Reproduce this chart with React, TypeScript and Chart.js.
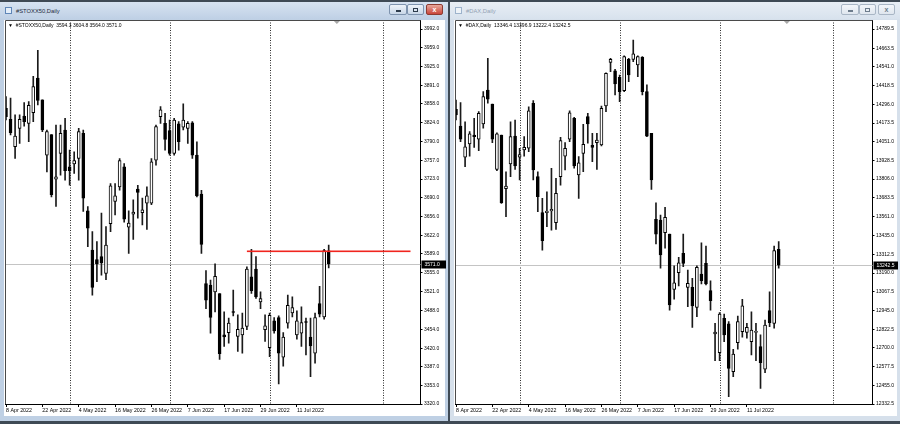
import React, { useEffect, useRef } from 'react';
import { Chart, registerables } from 'chart.js';

Chart.register(...registerables);

const FONT = '"Liberation Sans", Arial, sans-serif';

// ---------------- data ----------------
const dateLabels = ['8 Apr 2022', '22 Apr 2022', '4 May 2022', '16 May 2022', '26 May 2022', '7 Jun 2022', '17 Jun 2022', '29 Jun 2022', '11 Jul 2022'];
const dateLabelBars = [0, 8, 16, 24, 32, 40, 48, 56, 64];
const monthSeparatorBars = [14, 36, 58, 83];
const shiftMarkerBar = 72.8;

const stoxxOpen = [
  3850, 3830, 3781, 3814, 3836, 3823, 3842, 3904, 3865, 3766,
  3803, 3723, 3769, 3811, 3745, 3750, 3760, 3805, 3666, 3596,
  3579, 3584, 3554, 3643, 3683, 3709, 3745, 3637, 3660, 3705,
  3663, 3680, 3680, 3757, 3835, 3823, 3810, 3769, 3822, 3816,
  3814, 3824, 3766, 3696, 3536, 3533, 3521, 3518, 3444, 3448,
  3485, 3441, 3444, 3459, 3548, 3562, 3503, 3453, 3421, 3469,
  3475, 3404, 3465, 3483, 3444, 3447, 3467, 3440, 3411, 3500,
  3476, 3594.3,
];
const stoxxHigh = [
  3871, 3868, 3838, 3838, 3860, 3862, 3907, 3954, 3865, 3811,
  3803, 3820, 3820, 3832, 3775, 3772, 3814, 3811, 3674, 3629,
  3611, 3662, 3638, 3715, 3715, 3760, 3751, 3666, 3686, 3712,
  3689, 3709, 3760, 3820, 3853, 3841, 3829, 3832, 3826, 3858,
  3826, 3826, 3790, 3703, 3559, 3542, 3571, 3518, 3485, 3474,
  3524, 3480, 3483, 3566, 3597, 3584, 3521, 3480, 3483, 3475,
  3478, 3448, 3515, 3512, 3487, 3494, 3474, 3474, 3483, 3531,
  3597, 3604.8,
];
const stoxxLow = [
  3829, 3802, 3760, 3787, 3818, 3790, 3826, 3856, 3808, 3736,
  3691, 3674, 3730, 3721, 3712, 3733, 3721, 3665, 3602, 3515,
  3539, 3551, 3543, 3629, 3659, 3703, 3646, 3590, 3615, 3653,
  3641, 3633, 3677, 3748, 3823, 3775, 3766, 3766, 3775, 3811,
  3787, 3760, 3691, 3590, 3491, 3447, 3485, 3400, 3423, 3429,
  3478, 3414, 3411, 3453, 3518, 3509, 3491, 3432, 3405, 3447,
  3356, 3388, 3456, 3476, 3436, 3423, 3408, 3369, 3393, 3476,
  3472, 3564.0,
];
const stoxxClose = [
  3835, 3806, 3800, 3830, 3826, 3855, 3889, 3864, 3811, 3808,
  3695, 3727, 3805, 3738, 3738, 3756, 3808, 3689, 3635, 3529,
  3571, 3573, 3605, 3711, 3693, 3756, 3651, 3644, 3664, 3699,
  3668, 3693, 3754, 3817, 3847, 3794, 3769, 3829, 3790, 3829,
  3823, 3766, 3693, 3606, 3506, 3475, 3549, 3410, 3440, 3465,
  3484, 3454, 3456, 3562, 3523, 3512, 3509, 3460, 3479, 3451,
  3411, 3440, 3497, 3493, 3469, 3466, 3466, 3424, 3475, 3481,
  3595, 3571.0,
];
const stoxxPriceTicks = [3992.0, 3959.0, 3925.0, 3891.0, 3858.0, 3824.0, 3790.0, 3757.0, 3723.0, 3690.0, 3656.0, 3622.0, 3589.0, 3555.0, 3521.0, 3488.0, 3454.0, 3420.0, 3387.0, 3353.0, 3320.0];
const stoxxLevel = { fromBar: 53, toBar: 89, price: 3594 };

const daxOpen = [
  14263, 14154, 13949, 14036, 14095, 14067, 14167, 14390, 14298, 13870,
  14095, 13743, 13905, 14088, 13949, 13997, 14008, 14303, 13822, 13586,
  13586, 13597, 13520, 13822, 13957, 14067, 14204, 13833, 13975, 14215,
  14027, 14045, 14030, 14285, 14571, 14516, 14473, 14385, 14591, 14591,
  14554, 14604, 14379, 14106, 13543, 13538, 13455, 13446, 13084, 13193,
  13320, 13097, 13097, 12966, 13184, 13254, 13075, 12791, 12669, 12894,
  12857, 12544, 12734, 12806, 12802, 12741, 12802, 12708, 12560, 12944,
  12861, 13346.4,
];
const daxHigh = [
  14324, 14307, 14182, 14117, 14204, 14248, 14379, 14598, 14298, 14110,
  14095, 13854, 14182, 14193, 14008, 14084, 14280, 14320, 13854, 13680,
  13723, 13877, 13811, 14080, 14045, 14254, 14211, 13953, 14165, 14237,
  14106, 14106, 14285, 14503, 14598, 14525, 14488, 14613, 14598, 14717,
  14613, 14608, 14423, 14106, 13651, 13571, 13621, 13446, 13237, 13294,
  13446, 13210, 13156, 13237, 13389, 13368, 13140, 12861, 12931, 12922,
  12872, 12691, 12909, 13019, 12861, 12937, 12861, 12785, 12883, 13068,
  13368, 13396.9,
];
const daxLow = [
  14193, 14051, 13887, 13957, 14014, 13992, 14139, 14303, 14045, 13861,
  13647, 13560, 13822, 13870, 13800, 13957, 13986, 13800, 13592, 13341,
  13494, 13472, 13477, 13767, 13866, 14051, 13877, 13680, 13854, 14041,
  13920, 13870, 14023, 14248, 14510, 14357, 14313, 14379, 14444, 14575,
  14477, 14357, 14084, 13739, 13381, 13222, 13353, 12948, 13019, 13106,
  13232, 12970, 12835, 12904, 13119, 13112, 12948, 12616, 12616, 12741,
  12380, 12511, 12691, 12770, 12763, 12654, 12616, 12435, 12538, 12839,
  12829, 13222.4,
];
const daxClose = [
  14226, 14067, 14018, 14102, 14084, 14237, 14346, 14329, 14067, 14102,
  13651, 13761, 14084, 13892, 13966, 14014, 14254, 13866, 13691, 13402,
  13597, 13608, 13713, 14058, 14008, 14241, 13892, 13913, 14034, 14167,
  14014, 14062, 14270, 14499, 14591, 14429, 14379, 14608, 14488, 14626,
  14608, 14379, 14088, 13800, 13446, 13309, 13556, 12981, 13127, 13258,
  13254, 13123, 12975, 13228, 13140, 13119, 13009, 12804, 12922, 12785,
  12566, 12660, 12872, 12975, 12835, 12817, 12803, 12603, 12850, 12865,
  13337, 13242.5,
];
const daxPriceTicks = [14789.5, 14663.5, 14541.0, 14418.5, 14296.0, 14173.5, 14051.0, 13928.5, 13806.0, 13683.5, 13561.0, 13435.0, 13312.5, 13190.0, 13067.5, 12945.0, 12822.5, 12700.0, 12577.5, 12455.0, 12332.5];

// ---------------- geometry ----------------
const BAR_SPACING = 4.545; // px per bar
const FIRST_BAR_OFFSET = 1; // px from plot left edge to first bar
const PLOT_HEIGHT = 384;
const TICK_SPAN_PX = 375; // px between top and bottom price tick
const AXIS_W = 25.5;
const XAXIS_H = 12;

type PanelProps = {
  open: number[];
  high: number[];
  low: number[];
  close: number[];
  priceTicks: number[];
  level?: { fromBar: number; toBar: number; price: number };
  width: number;
  height: number;
  left: number;
  top: number;
};

function CandlePanel(p: PanelProps) {
  const ref = useRef<HTMLCanvasElement>(null);
  useEffect(() => {
    const canvas = ref.current;
    if (!canvas) return;
    const n = p.open.length;
    const plotW = p.width - AXIS_W;
    const xMin = -FIRST_BAR_OFFSET / BAR_SPACING;
    const xMax = xMin + plotW / BAR_SPACING;
    const tMax = Math.max(...p.priceTicks);
    const tMin = Math.min(...p.priceTicks);
    const yMin = tMin;
    const yMax = tMin + ((tMax - tMin) * PLOT_HEIGHT) / TICK_SPAN_PX;
    const last = p.close[n - 1];

    const bodies = p.open.map((o, i) => ({ x: i, y: [o, p.close[i]] }));
    const wicks = p.open.map((_, i) => ({ x: i, y: [p.low[i], p.high[i]] }));
    const bodyColors = p.open.map((o, i) => (p.close[i] >= o ? '#ffffff' : '#000000'));

    const overlay = {
      id: 'mtOverlay',
      beforeDatasetsDraw(chart: any) {
        const { ctx, chartArea: a, scales } = chart;
        const xs = scales.x;
        const ys = scales.y;
        ctx.save();
        // period separators
        ctx.strokeStyle = '#2a2a2a';
        ctx.lineWidth = 1;
        ctx.setLineDash([1, 1.5]);
        for (const s of monthSeparatorBars) {
          const px = Math.round(xs.getPixelForValue(s)) + 0.5;
          ctx.beginPath();
          ctx.moveTo(px, a.top);
          ctx.lineTo(px, a.bottom);
          ctx.stroke();
        }
        ctx.setLineDash([]);
        // bid line
        const by = Math.round(ys.getPixelForValue(last)) + 0.5;
        ctx.strokeStyle = '#c4c4c4';
        ctx.beginPath();
        ctx.moveTo(a.left, by);
        ctx.lineTo(a.right, by);
        ctx.stroke();
        ctx.restore();
      },
      afterDatasetsDraw(chart: any) {
        const { ctx, scales } = chart;
        const xs = scales.x;
        const ys = scales.y;
        if (!p.level) return;
        ctx.save();
        const ly = Math.round(ys.getPixelForValue(p.level.price));
        ctx.fillStyle = '#f0251e';
        const x0 = xs.getPixelForValue(p.level.fromBar);
        const x1 = xs.getPixelForValue(p.level.toBar);
        ctx.fillRect(x0, ly - 0.5, x1 - x0, 1.6);
        ctx.restore();
      },
      afterDraw(chart: any) {
        const { ctx, chartArea: a, scales } = chart;
        const xs = scales.x;
        const ys = scales.y;
        ctx.save();
        // frame top + left
        ctx.strokeStyle = '#4a4a4a';
        ctx.lineWidth = 1;
        ctx.beginPath();
        ctx.moveTo(a.left + 0.5, a.bottom);
        ctx.lineTo(a.left + 0.5, a.top + 0.5);
        ctx.lineTo(a.right, a.top + 0.5);
        ctx.stroke();
        // shift marker
        const sx = xs.getPixelForValue(shiftMarkerBar);
        ctx.fillStyle = '#a8a8a8';
        ctx.beginPath();
        ctx.moveTo(sx - 3, a.top + 1);
        ctx.lineTo(sx + 3, a.top + 1);
        ctx.lineTo(sx, a.top + 4);
        ctx.closePath();
        ctx.fill();
        // current price label
        const cy = ys.getPixelForValue(last);
        ctx.fillStyle = '#000';
        ctx.fillRect(a.right + 1, Math.round(cy) - 3.5, AXIS_W - 1, 8);
        ctx.fillStyle = '#fff';
        ctx.font = `5px ${FONT}`;
        ctx.textBaseline = 'middle';
        ctx.textAlign = 'left';
        ctx.fillText(last.toFixed(1), a.right + 4, Math.round(cy) + 0.5);
        ctx.restore();
      },
    };

    const chart = new Chart(canvas, {
      type: 'bar',
      data: {
        datasets: [
          {
            data: bodies as any,
            backgroundColor: bodyColors,
            borderColor: '#000',
            borderWidth: 1,
            borderSkipped: false,
            barThickness: 3,
            minBarLength: 1,
            grouped: false,
            order: 0,
          } as any,
          {
            data: wicks as any,
            backgroundColor: '#1a1a1a',
            borderWidth: 0,
            barThickness: 1,
            grouped: false,
            order: 1,
          } as any,
        ],
      },
      options: {
        animation: false,
        responsive: false,
        devicePixelRatio: 1,
        events: [],
        layout: { padding: 0 },
        plugins: { legend: { display: false }, tooltip: { enabled: false } },
        scales: {
          x: {
            type: 'linear',
            min: xMin,
            max: xMax,
            offset: false,
            bounds: 'data',
            afterBuildTicks: (s: any) => {
              s.ticks = dateLabelBars.map((v) => ({ value: v }));
            },
            afterFit: (s: any) => {
              s.height = XAXIS_H;
              s.paddingLeft = 0;
              s.paddingRight = 0;
            },
            ticks: {
              autoSkip: false,
              maxRotation: 0,
              minRotation: 0,
              align: 'start',
              padding: 0,
              color: '#000',
              font: { family: FONT, size: 5.3 },
              callback: (v: any) => {
                const k = dateLabelBars.indexOf(Number(v));
                return k >= 0 ? dateLabels[k] : '';
              },
            },
            grid: { drawOnChartArea: false, drawTicks: true, tickLength: 3, color: '#000', offset: false },
            border: { display: true, color: '#000', width: 1 },
          } as any,
          y: {
            type: 'linear',
            position: 'right',
            min: yMin,
            max: yMax,
            bounds: 'data',
            afterBuildTicks: (s: any) => {
              s.ticks = p.priceTicks.map((v) => ({ value: v }));
            },
            afterFit: (s: any) => {
              s.width = AXIS_W;
              s.paddingTop = 0;
              s.paddingBottom = 0;
            },
            ticks: {
              autoSkip: false,
              padding: 1.5,
              color: '#000',
              font: { family: FONT, size: 5 },
              callback: (v: any) => Number(v).toFixed(1),
            },
            grid: { drawOnChartArea: false, drawTicks: true, tickLength: 2, color: '#000' },
            border: { display: true, color: '#000', width: 1 },
          } as any,
        },
      },
      plugins: [overlay],
    });
    return () => chart.destroy();
  }, []);
  return (
    <canvas
      ref={ref}
      width={p.width}
      height={p.height}
      style={{ position: 'absolute', left: p.left, top: p.top, width: p.width, height: p.height }}
    />
  );
}

function Buttons({ active, right }: { active: boolean; right: number }) {
  const base: React.CSSProperties = {
    position: 'absolute',
    top: 2,
    height: 11,
    borderRadius: 2,
    boxSizing: 'border-box',
  };
  const light = active ? 'linear-gradient(#eef3f9,#c9d7e8)' : 'linear-gradient(#f3f6fa,#dfe6ee)';
  const bd = active ? '1px solid #7e93ae' : '1px solid #a9b6c5';
  const glyph = active ? '#2d3b4c' : '#6d7c8c';
  return (
    <>
      <div style={{ ...base, left: right - 55, width: 18, background: light, border: bd }}>
        <div style={{ position: 'absolute', left: 6, top: 5, width: 5, height: 1.5, background: glyph }} />
      </div>
      <div style={{ ...base, left: right - 37, width: 17, background: light, border: bd }}>
        <div style={{ position: 'absolute', left: 5, top: 2.5, width: 5, height: 4, border: `1px solid ${glyph}`, boxSizing: 'border-box' }} />
      </div>
      <div
        style={{
          ...base,
          left: right - 18,
          width: 17,
          background: active ? 'linear-gradient(#e9a89c,#c9463b)' : light,
          border: active ? '1px solid #8e3b31' : bd,
          color: active ? '#fff' : glyph,
          fontSize: 7,
          lineHeight: '9px',
          textAlign: 'center',
          fontFamily: FONT,
          fontWeight: 'bold',
        }}
      >
        x
      </div>
    </>
  );
}

function MtWindow(props: {
  left: number;
  width: number;
  active: boolean;
  title: string;
  info: string;
  children?: React.ReactNode;
}) {
  const { left, width, active, title, info } = props;
  const frame = active ? '#bfd0e4' : '#d6e0eb';
  return (
    <div style={{ position: 'absolute', left, top: 2, width, height: 419, background: frame, overflow: 'hidden' }}>
      <div
        style={{
          position: 'absolute',
          left: 0,
          top: 0,
          width,
          height: 17,
          background: active ? 'linear-gradient(#d7e3f1,#bfd0e5)' : 'linear-gradient(#e8eef5,#d8e2ed)',
        }}
      />
      <div
        style={{
          position: 'absolute',
          left: 5,
          top: 5,
          width: 7,
          height: 7,
          border: `1px solid ${active ? '#5f86b8' : '#9db3cc'}`,
          background: active ? '#e4eef9' : '#eef3f8',
          boxSizing: 'border-box',
        }}
      />
      <div
        style={{
          position: 'absolute',
          left: 16,
          top: 3,
          height: 12,
          lineHeight: '12px',
          fontSize: 5.8,
          color: active ? '#1f2b3a' : '#93a2b3',
          fontFamily: FONT,
          whiteSpace: 'pre',
        }}
      >
        {title}
      </div>
      <Buttons active={active} right={width - 4} />
      <div
        style={{
          position: 'absolute',
          left: 4,
          top: 18,
          width: width - 7,
          height: 396,
          background: '#fff',
        }}
      />
      {props.children}
      <div
        style={{
          position: 'absolute',
          left: 8,
          top: 20,
          height: 7,
          lineHeight: '7px',
          fontSize: 5,
          color: '#000',
          fontFamily: FONT,
          whiteSpace: 'pre',
        }}
      >
        {'\u25BC  ' + info}
      </div>
    </div>
  );
}

export default function App() {
  useEffect(() => {
    document.body.style.margin = '0';
  }, []);
  return (
    <div
      style={{
        position: 'fixed',
        left: 0,
        top: 0,
        width: 900,
        height: 424,
        background: '#3f4a55',
        overflow: 'hidden',
      }}
    >
      <MtWindow left={0} width={448} active={true} title="#STOXX50,Daily" info="#STOXX50,Daily  3594.3 3604.8 3564.0 3571.0">
        <CandlePanel
          open={stoxxOpen}
          high={stoxxHigh}
          low={stoxxLow}
          close={stoxxClose}
          priceTicks={stoxxPriceTicks}
          level={stoxxLevel}
          left={5}
          top={18}
          width={441}
          height={396}
        />
      </MtWindow>
      <MtWindow left={450} width={450} active={false} title="#DAX,Daily" info="#DAX,Daily  13346.4 13396.9 13222.4 13242.5">
        <CandlePanel
          open={daxOpen}
          high={daxHigh}
          low={daxLow}
          close={daxClose}
          priceTicks={daxPriceTicks}
          left={5}
          top={18}
          width={443}
          height={396}
        />
      </MtWindow>
    </div>
  );
}
